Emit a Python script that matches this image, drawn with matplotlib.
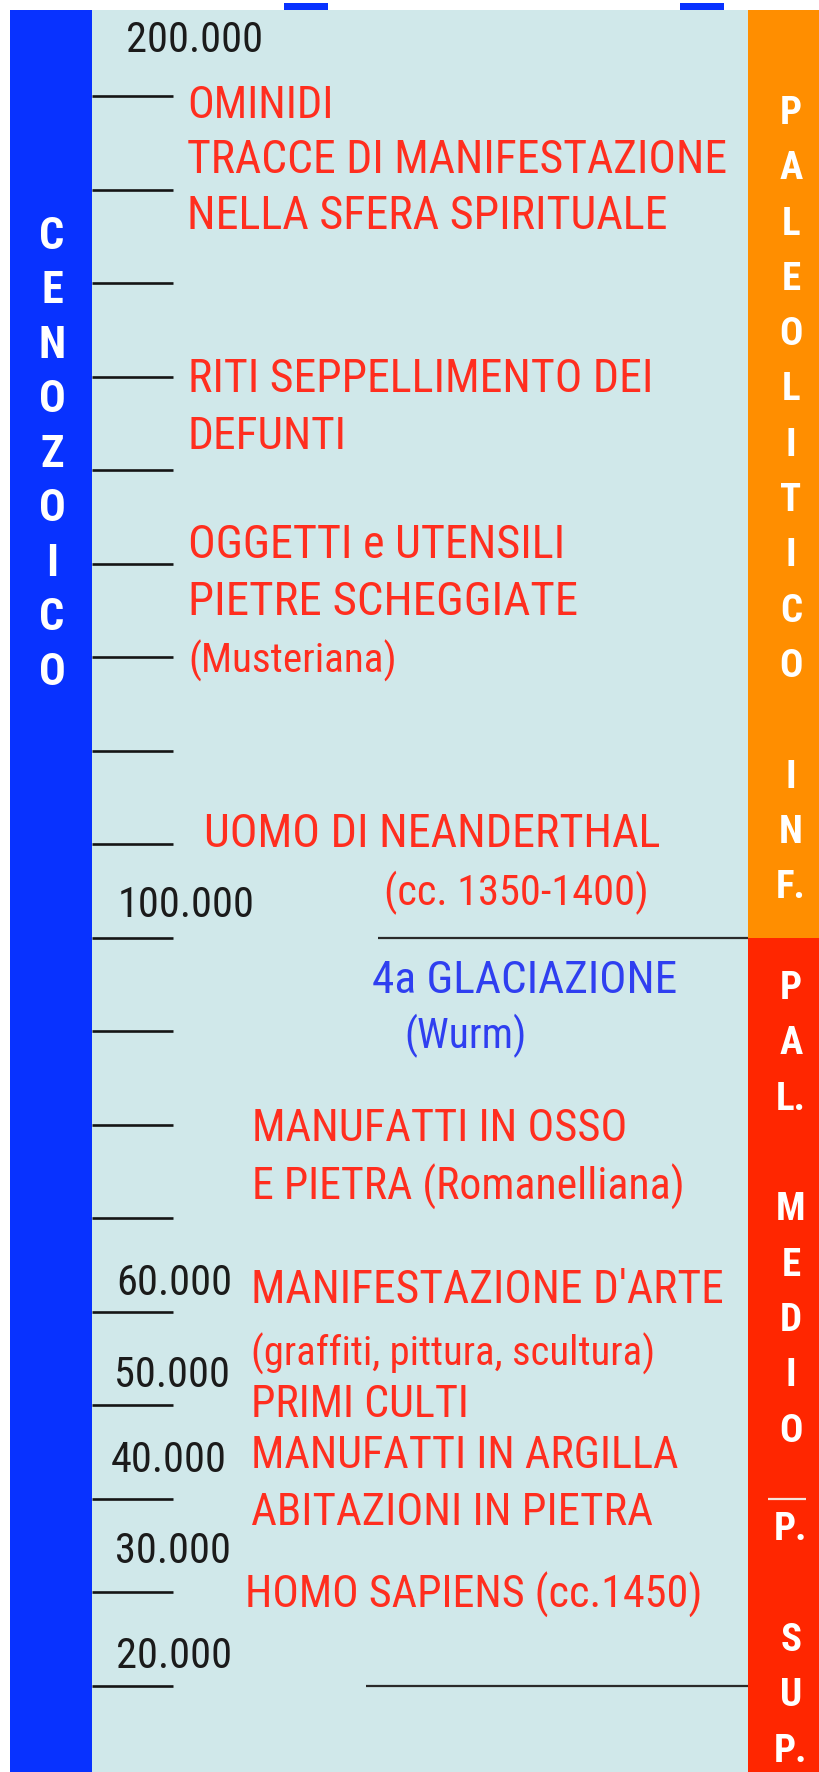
import matplotlib
matplotlib.use("Agg")
import matplotlib.pyplot as plt
import matplotlib.patches as patches
from matplotlib import font_manager

# ── Timeline data (rows are measured in tick steps, tick 0 at the top) ──────
TICKS = list(range(18))

YEAR_LABELS = ["200.000", "100.000", "60.000", "50.000", "40.000", "30.000", "20.000"]
YEAR_ROWS = [-0.47, 8.78, 12.82, 13.81, 14.72, 15.69, 16.81]

EVENT_LINES = [
    "OMINIDI", "TRACCE DI MANIFESTAZIONE", "NELLA SFERA SPIRITUALE",
    "RITI SEPPELLIMENTO DEI", "DEFUNTI",
    "OGGETTI e UTENSILI", "PIETRE SCHEGGIATE", "(Musteriana)",
    "UOMO DI NEANDERTHAL", "(cc. 1350-1400)",
    "4a GLACIAZIONE", "(Wurm)",
    "MANUFATTI IN OSSO", "E PIETRA (Romanelliana)",
    "MANIFESTAZIONE D'ARTE", "(graffiti, pittura, scultura)", "PRIMI CULTI",
    "MANUFATTI IN ARGILLA", "ABITAZIONI IN PIETRA",
    "HOMO SAPIENS (cc.1450)",
]
EVENT_ROWS = [0.235, 0.824, 1.422, 3.166, 3.775, 4.941, 5.551, 6.171,
              8.032, 8.652, 9.594, 10.18, 11.18, 11.80,
              12.91, 13.58, 14.13, 14.67, 15.28, 16.17]
EVENT_CLIMATE = [False] * 10 + [True, True] + [False] * 8

ERA = "CENOZOICO"
ERA_ROW = 1.465

PERIODS = ["PALEOLITICO INF.", "PAL. MEDIO", "P. SUP."]
PERIOD_ROWS = [0.15, 9.51, 15.30]
BAR_SPLIT = 9            # orange / red change at 100.000
BOUNDARY_ROWS = [9, 17]  # long lines across the panel
SUP_ROW = 15             # start of Paleolitico superiore

# ── Layout (pixels) ──────────────────────────────────────────────────────────
W, H, DPI = 820, 1772, 100
PX = 93.5                 # pixels per tick step
Y0 = 96                   # pixel row of tick 0

def row(px):
    return (px - Y0) / PX

EVENT_X = [187, 187, 187, 188, 188, 188, 188, 188, 204, 384, 372, 404,
           252, 252, 251, 251, 251, 251, 251, 245]
# printed width of each line in the original, px
EVENT_W = [146, 540, 480, 465, 159, 377, 389, 208, 456, 263, 304, 122,
           375, 431, 472, 403, 218, 426, 399, 456]
YEAR_X = [126, 118, 116, 114, 111, 115, 116]
LINE_X0 = [378, 366]

BLUE_BAR = "#0832ff"
PANEL = "#d0e8ea"
ORANGE = "#ff8e00"
RED_BAR = "#ff2600"
RED_TXT = "#ff2e1f"
BLUE_TXT = "#2f3ff0"

names = {f.name for f in font_manager.fontManager.ttflist}
FONT = "Liberation Sans"
for cand in ["Liberation Sans Narrow", "Arial Narrow", "Roboto Condensed",
             "PT Sans Narrow", "Archivo Narrow"]:
    if cand in names:
        FONT = cand
        break

# ── Figure ───────────────────────────────────────────────────────────────────
fig = plt.figure(figsize=(W / DPI, H / DPI), dpi=DPI, facecolor="white")
ax = fig.add_axes([0, 0, 1, 1])
ax.set_xlim(0, W)
ax.set_ylim(row(H), row(0))
ax.axis("off")
renderer = fig.canvas.get_renderer()

def size_for(text, width_px, weight="normal"):
    probe = ax.text(0, 0, text, family=FONT, fontsize=10, fontweight=weight)
    w = probe.get_window_extent(renderer).width
    probe.remove()
    return 10 * width_px / w

TXT_SIZE = size_for("TRACCE DI MANIFESTAZIONE", 540)
YEAR_SIZE = size_for("60.000", 114)
ERA_SIZE = TXT_SIZE * 0.97
PER_SIZE = TXT_SIZE * 0.85

def cap_half(size):
    return size / 72 * DPI * 0.716 / 2 / PX

top = row(10)
bottom = row(H)
ax.add_patch(patches.Rectangle((10, top), 82, bottom - top, color=BLUE_BAR, lw=0))
ax.add_patch(patches.Rectangle((92, top), 656, bottom - top, color=PANEL, lw=0))
ax.add_patch(patches.Rectangle((748, top), 72, BAR_SPLIT - top, color=ORANGE, lw=0))
ax.add_patch(patches.Rectangle((748, BAR_SPLIT), 72, bottom - BAR_SPLIT, color=RED_BAR, lw=0))
# clipped web elements at the very top
for x0 in (284, 680):
    ax.add_patch(patches.Rectangle((x0, row(3)), 44, row(10) - row(3), color=BLUE_BAR, lw=0))

# ticks
ax.hlines(TICKS, 92, 173, color="#151515", lw=1.9, zorder=3)

# period boundaries
for r, x0 in zip(BOUNDARY_ROWS, LINE_X0):
    ax.hlines(r, x0, 748, color="#2a2a2a", lw=1.6, zorder=3)
ax.hlines(SUP_ROW, 768, 806, color="#f4e4dc", lw=1.6, zorder=3)

# year labels
for label, r, x in zip(YEAR_LABELS, YEAR_ROWS, YEAR_X):
    ax.text(x, r, label, family=FONT, fontsize=YEAR_SIZE, color="#1b1b1b",
            ha="left", va="baseline", zorder=4)

# events: keep the common size, squeeze lines that run wider than the original
for line, r, x, w, climate in zip(EVENT_LINES, EVENT_ROWS, EVENT_X, EVENT_W, EVENT_CLIMATE):
    size = min(max(size_for(line, w), TXT_SIZE * 0.86), TXT_SIZE * 1.04)
    ax.text(x, r, line, family=FONT, fontsize=size,
            color=BLUE_TXT if climate else RED_TXT,
            ha="left", va="baseline", zorder=4)

# stacked bar labels
def stack_items(label):
    items = []
    for ch in label:
        if ch == "." and items:
            items[-1] += ch
        else:
            items.append("" if ch == " " else ch)
    return items

for i, ch in enumerate(stack_items(ERA)):
    ax.text(52, ERA_ROW + i * 54.5 / PX + cap_half(ERA_SIZE), ch, family=FONT,
            fontsize=ERA_SIZE, fontweight="bold", color="white",
            ha="center", va="baseline", zorder=4)

for label, r0 in zip(PERIODS, PERIOD_ROWS):
    for i, ch in enumerate(stack_items(label)):
        ax.text(791, r0 + i * 55.3 / PX + cap_half(PER_SIZE), ch, family=FONT,
                fontsize=PER_SIZE, fontweight="bold", color="white",
                ha="center", va="baseline", zorder=4)

fig.savefig("out.png", dpi=DPI, facecolor="white")
